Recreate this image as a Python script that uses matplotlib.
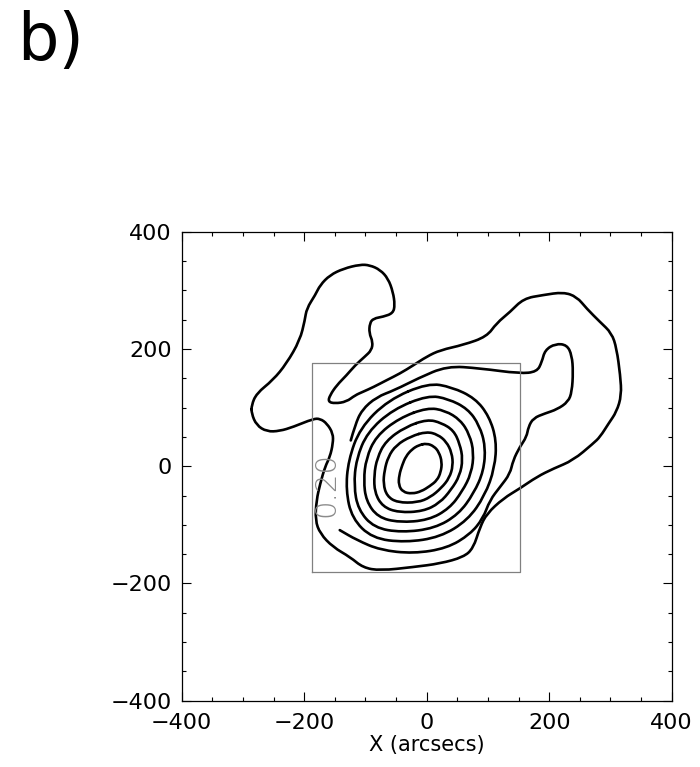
import matplotlib
matplotlib.use("Agg")
import matplotlib.pyplot as plt
from matplotlib.path import Path
from matplotlib.patches import PathPatch
from matplotlib.ticker import MultipleLocator

# contour levels (outermost first)
levels = [0.10, 0.20, 0.30, 0.40, 0.50, 0.60, 0.70, 0.80]

# outermost contour, closed loop (arcsec)
outer_x = [-286, -278, -251, -229, -207, -199, -196, -182, -174, -158, -136, -109,
           -93, -76, -63, -55, -52, -55, -71, -87, -93, -94, -88, -90, -101, -117,
           -131, -147, -158, -161, -150, -131, -117, -104, -87, -65, -44, -22, 0, 22,
           60, 98, 114, 136, 158, 190, 223, 245, 261, 283, 302, 310, 316, 318, 310,
           297, 283, 272, 239, 207, 180, 152, 125, 98, 87, 76, 60, 22, -22, -76, -104,
           -125, -153, -174, -182, -180, -174, -166, -158, -153, -153, -163, -174,
           -185, -218, -240, -261, -278, -286]
outer_y = [104, 124, 147, 175, 215, 249, 269, 292, 309, 326, 337, 344, 343, 335,
           320, 297, 275, 261, 255, 252, 244, 227, 212, 198, 187, 172, 155, 138, 121,
           110, 107, 110, 121, 127, 135, 147, 158, 172, 187, 198, 207, 221, 244, 263,
           286, 292, 297, 289, 269, 246, 227, 201, 155, 121, 93, 73, 50, 39, 10, -4,
           -18, -38, -55, -81, -104, -140, -155, -166, -172, -178, -173, -155, -138,
           -115, -92, -58, -30, -1, 16, 39, 56, 73, 81, 81, 67, 60, 59, 70, 90]

# second contour, left open where its label sits
second_x = [-124, -117, -106, -82, -52, -14, 33, 87, 152, 180, 188, 193, 210, 229,
            237, 239, 237, 231, 213, 193, 174, 166, 163, 152, 141, 136, 120, 103, 92,
            71, 33, -22, -76, -114, -142]
second_y = [44, 70, 96, 118, 130, 150, 171, 167, 158, 161, 178, 198, 209, 207, 189,
            161, 127, 110, 97, 90, 82, 67, 50, 33, 10, -13, -35, -58, -89, -116,
            -140, -149, -143, -126, -109]

# closed inner rings, from outside in
ring3_x = [2, 41, 79, 102, 114, 111, 95, 67, 22, -35, -89, -122, -132, -128, -109, -63]
ring3_y = [142, 135, 116, 85, 44, -3, -50, -92, -121, -130, -123, -89, -41, 10, 65, 113]
ring4_x = [2, 35, 67, 86, 96, 93, 77, 52, 13, -41, -86, -112, -119, -115, -97, -55]
ring4_y = [121, 115, 98, 70, 34, -8, -46, -82, -106, -113, -105, -74, -33, 12, 58, 97]
ring5_x = [1, 30, 55, 70, 77, 73, 58, 37, 3, -45, -80, -99, -103, -99, -83, -45]
ring5_y = [100, 95, 79, 54, 23, -12, -43, -72, -92, -96, -87, -59, -24, 13, 51, 82]
ring6_x = [1, 24, 44, 54, 59, 54, 40, 21, -6, -46, -72, -85, -86, -81, -67, -35]
ring6_y = [80, 74, 61, 38, 12, -16, -40, -63, -77, -79, -69, -45, -15, 14, 43, 67]
ring7_x = [0, 18, 32, 41, 43, 37, 24, 6, -15, -48, -65, -71, -69, -63, -50, -26]
ring7_y = [59, 54, 42, 23, 1, -20, -37, -53, -62, -62, -51, -30, -7, 16, 36, 51]
ring8_x = [0, 12, 20, 25, 23, 17, 5, -9, -24, -39, -46, -45, -40, -34, -24, -13]
ring8_y = [39, 34, 24, 7, -10, -24, -34, -43, -47, -44, -32, -15, 2, 17, 29, 36]

# field-of-view box
box_x = [-187, 152]
box_y = [-181, 176]

ticks = [-400, -200, 0, 200, 400]


def smooth_path(xs, ys, closed):
    # quadratic bezier through edge midpoints, vertices act as control points
    pts = list(zip(xs, ys))
    n = len(pts)
    mid = lambda a, b: ((a[0] + b[0]) / 2, (a[1] + b[1]) / 2)
    if closed:
        verts = [mid(pts[-1], pts[0])]
        codes = [Path.MOVETO]
        for i in range(n):
            verts += [pts[i], mid(pts[i], pts[(i + 1) % n])]
            codes += [Path.CURVE3, Path.CURVE3]
    else:
        verts = [pts[0]]
        codes = [Path.MOVETO]
        for i in range(1, n - 1):
            verts += [pts[i], mid(pts[i], pts[i + 1])]
            codes += [Path.CURVE3, Path.CURVE3]
        verts.append(pts[-1])
        codes.append(Path.LINETO)
    return Path(verts, codes)


fig = plt.figure(figsize=(7.0, 7.67), dpi=100)
ax = fig.add_axes([0.2596, 0.0864, 0.700, 0.6115])

line_kw = dict(edgecolor="black", facecolor="none", lw=1.9, joinstyle="round",
               capstyle="round")

ax.add_patch(PathPatch(smooth_path(outer_x, outer_y, True), **line_kw))
ax.add_patch(PathPatch(smooth_path(second_x, second_y, False), **line_kw))
rings = [(ring3_x, ring3_y), (ring4_x, ring4_y), (ring5_x, ring5_y),
         (ring6_x, ring6_y), (ring7_x, ring7_y), (ring8_x, ring8_y)]
for rx, ry in rings:
    ax.add_patch(PathPatch(smooth_path(rx, ry, True), **line_kw))

# box
ax.plot([box_x[0], box_x[1], box_x[1], box_x[0], box_x[0]],
        [box_y[0], box_y[0], box_y[1], box_y[1], box_y[0]],
        color="#808080", lw=0.9)

# contour label
ax.text(-164, -32, f"{levels[1]:.2f}", rotation=90, ha="center", va="center",
        fontsize=21, color="#8a8a8a", fontweight="light")

ax.set_xlim(-400, 400)
ax.set_ylim(-400, 400)
ax.set_xticks(ticks)
ax.set_yticks(ticks)
ax.xaxis.set_minor_locator(MultipleLocator(50))
ax.yaxis.set_minor_locator(MultipleLocator(50))
ax.tick_params(which="both", direction="in", top=True, right=True, width=0.8,
               labelsize=16)
ax.tick_params(which="major", length=6.5)
ax.tick_params(which="minor", length=3.2)
ax.tick_params(axis="x", pad=9)
ax.tick_params(axis="y", pad=7)
for s in ax.spines.values():
    s.set_linewidth(0.9)

ax.set_xlabel("X (arcsecs)", fontsize=15, labelpad=1)

fig.text(0.024, 0.922, "b)", fontsize=47, va="baseline", ha="left")

fig.savefig("out.png", dpi=100)
